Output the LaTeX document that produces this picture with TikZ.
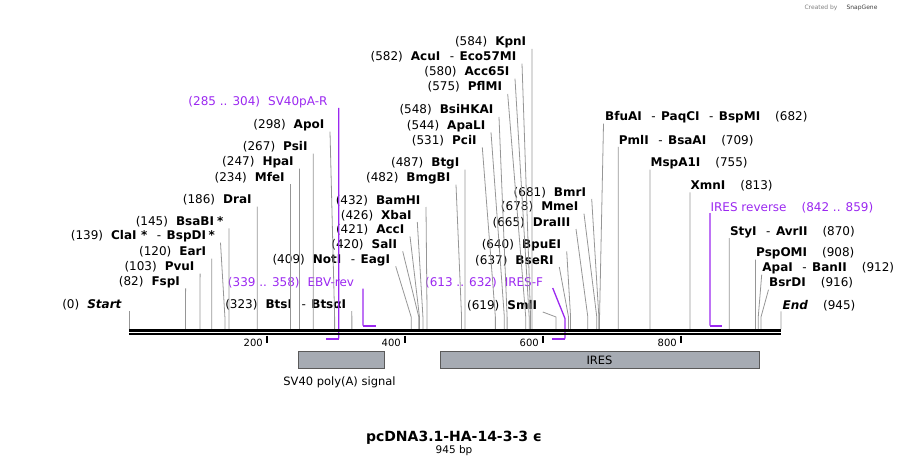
\documentclass[tikz,border=0pt]{standalone}
\usepackage{fontspec}
\setmainfont{DejaVu Sans}
\usetikzlibrary{positioning}
\definecolor{cutgray}{RGB}{150,150,150}
\definecolor{primerviolet}{RGB}{155,40,240}
\definecolor{featgray}{RGB}{166,171,179}
\definecolor{featedge}{RGB}{90,90,90}
\newcommand{\bpx}[1]{129+#1*0.68995}
\newcommand{\enz}[2]{(#1)\hspace{8pt}\textbf{#2}}
\newcommand{\renz}[2]{\textbf{#1}\hspace{15pt}(#2)}
\newcommand{\esep}{\hspace{9.5pt}{\mdseries -}\hspace{5.5pt}}

\begin{document}
\begin{tikzpicture}[x=1pt, y=-1pt,
labL/.style={anchor=base east, inner sep=0pt, font=\fontsize{12}{14}\selectfont},
labR/.style={anchor=base west, inner sep=0pt, font=\fontsize{12}{14}\selectfont},
cut/.style={draw=cutgray, line width=0.8pt},
primer/.style={draw=primerviolet, line width=1.3pt},
primbar/.style={draw=primerviolet, line width=2pt},
feature/.style={draw=featedge, fill=featgray, line width=0.6pt,
minimum height=16.8pt, inner sep=0pt, font=\fontsize{11.5}{13}\selectfont},
bb/.style={line width=2.3pt}
]
\useasboundingbox (0,0) rectangle (910,468);

% sites on the backbone
\foreach \b in {0,82,103,120,139,145,186,234,247,267,298,323,409,420,421,426,432,
482,487,531,544,548,575,580,582,584,619,637,640,665,678,681,682,709,755,813,870,
908,912,916,945}
\coordinate (s\b) at ({\bpx{\b}},329);
\foreach \b in {285,304,613,632}
\coordinate (p\b) at ({\bpx{\b}},338.7);
\foreach \b in {339,358,842,859}
\coordinate (p\b) at ({\bpx{\b}},325.7);

% left hand labels
\node[labL] (startLab) at (122,308.3) {(0)\hspace{8pt}\textbf{\textit{Start}}};
\node[labL] (fspI) at (180.1,285.3) {\enz{82}{FspI}};
\node[labL] (pvuI) at (194.6,270.7) {\enz{103}{PvuI}};
\node[labL] (earI) at (206.3,255.7) {\enz{120}{EarI}};
\node[labL] (claI) at (215,239.7) {\enz{139}{ClaI\hspace{4.5pt}*\esep BspDI\hspace{2.5pt}*}};
\node[labL] (bsaBI) at (223.5,225.3) {\enz{145}{BsaBI\hspace{3pt}*}};
\node[labL] (draI) at (251.8,203.7) {\enz{186}{DraI}};
\node[labL] (mfeI) at (284.9,181) {\enz{234}{MfeI}};
\node[labL] (hpaI) at (293.9,165.7) {\enz{247}{HpaI}};
\node[labL] (psiI) at (307.7,150.7) {\enz{267}{PsiI}};
\node[labL] (apoI) at (324.5,128.7) {\enz{298}{ApoI}};
\node[labL] (btsI) at (346.3,308) {\enz{323}{BtsI\esep BtsαI}};
\node[labL] (notI) at (390.2,263.3) {\enz{409}{NotI\esep EagI}};
\node[labL] (salI) at (397.2,248.3) {\enz{420}{SalI}};
\node[labL] (accI) at (404.5,233.3) {\enz{421}{AccI}};
\node[labL] (xbaI) at (411.8,219) {\enz{426}{XbaI}};
\node[labL] (bamHI) at (420.5,204) {\enz{432}{BamHI}};
\node[labL] (bmgBI) at (450.5,181.7) {\enz{482}{BmgBI}};
\node[labL] (btgI) at (459.5,166.7) {\enz{487}{BtgI}};
\node[labL] (pciI) at (476.8,144.3) {\enz{531}{PciI}};
\node[labL] (apaLI) at (485.5,129.3) {\enz{544}{ApaLI}};
\node[labL] (bsiHKAI) at (493.5,114) {\enz{548}{BsiHKAI}};
\node[labL] (pflMI) at (502.2,91) {\enz{575}{PflMI}};
\node[labL] (acc65I) at (509.5,75.7) {\enz{580}{Acc65I}};
\node[labL] (acuI) at (516.5,60.7) {\enz{582}{AcuI\esep Eco57MI}};
\node[labL] (kpnI) at (526.4,46) {\enz{584}{KpnI}};
\node[labL] (bmrI) at (586.2,196) {\enz{681}{BmrI}};
\node[labL] (mmeI) at (578.5,210.7) {\enz{678}{MmeI}};
\node[labL] (draIII) at (570.5,226) {\enz{665}{DraIII}};
\node[labL] (bpuEI) at (561.2,248.3) {\enz{640}{BpuEI}};
\node[labL] (bseRI) at (553.8,264) {\enz{637}{BseRI}};
\node[labL] (smlI) at (537.3,309) {\enz{619}{SmlI}};

% right hand labels
\node[labR] (bfuAI) at (605,120.7) {\renz{BfuAI\esep PaqCI\esep BspMI}{682}};
\node[labR] (pmlI) at (618.7,144) {\renz{PmlI\esep BsaAI}{709}};
\node[labR] (mspA1I) at (650.4,166.7) {\renz{MspA1I}{755}};
\node[labR] (xmnI) at (690.4,189.3) {\renz{XmnI}{813}};
\node[labR] (styI) at (729.8,235) {\renz{StyI\esep AvrII}{870}};
\node[labR] (pspOMI) at (756,256.7) {\renz{PspOMI}{908}};
\node[labR] (apaI) at (762.2,271.7) {\renz{ApaI\esep BanII}{912}};
\node[labR] (bsrDI) at (769,286.7) {\renz{BsrDI}{916}};
\node[labR] (endLab) at (782.5,309.3) {\textbf{\textit{End}}\hspace{15pt}(945)};

% primers
\node[labL, text=primerviolet] (sv40R) at (327.7,106) {(285 .. 304)\hspace{8pt}SV40pA-R};
\node[labL, text=primerviolet] (ebvRev) at (354.3,286) {(339 .. 358)\hspace{8pt}EBV-rev};
\node[labL, text=primerviolet] (iresF) at (543.3,286) {(613 .. 632)\hspace{8pt}IRES-F};
\node[labR, text=primerviolet] (iresRev) at (710.4,211) {IRES reverse\hspace{15pt}(842 .. 859)};

% cut lines
\draw[cut] (startLab.base east) ++(7,3) -- (s0);
\draw[cut] (fspI.base east) ++(5.5,3) -- ([yshift=12pt]s82) -- (s82);
\draw[cut] (pvuI.base east) ++(5.5,3) -- ([yshift=12pt]s103) -- (s103);
\draw[cut] (earI.base east) ++(5.5,3) -- ([yshift=12pt]s120) -- (s120);
\draw[cut] (claI.base east) ++(5.5,3) -- ([yshift=12pt]s139) -- (s139);
\draw[cut] (bsaBI.base east) ++(5.5,3) -- ([yshift=12pt]s145) -- (s145);
\draw[cut] (draI.base east) ++(5.5,3) -- ([yshift=12pt]s186) -- (s186);
\draw[cut] (mfeI.base east) ++(5.5,3) -- ([yshift=12pt]s234) -- (s234);
\draw[cut] (hpaI.base east) ++(5.5,3) -- ([yshift=12pt]s247) -- (s247);
\draw[cut] (psiI.base east) ++(5.5,3) -- ([yshift=12pt]s267) -- (s267);
\draw[cut] (apoI.base east) ++(5.5,3) -- ([yshift=12pt]s298) -- (s298);
\draw[cut] (btsI.base east) ++(5.5,3) -- ([yshift=12pt]s323) -- (s323);
\draw[cut] (notI.base east) ++(5.5,3) -- ([yshift=12pt]s409) -- (s409);
\draw[cut] (salI.base east) ++(5.5,3) -- ([yshift=12pt]s420) -- (s420);
\draw[cut] (accI.base east) ++(5.5,3) -- ([yshift=12pt]s421) -- (s421);
\draw[cut] (xbaI.base east) ++(5.5,3) -- ([yshift=12pt]s426) -- (s426);
\draw[cut] (bamHI.base east) ++(5.5,3) -- ([yshift=12pt]s432) -- (s432);
\draw[cut] (bmgBI.base east) ++(5.5,3) -- ([yshift=12pt]s482) -- (s482);
\draw[cut] (btgI.base east) ++(5.5,3) -- ([yshift=12pt]s487) -- (s487);
\draw[cut] (pciI.base east) ++(5.5,3) -- ([yshift=12pt]s531) -- (s531);
\draw[cut] (apaLI.base east) ++(5.5,3) -- ([yshift=12pt]s544) -- (s544);
\draw[cut] (bsiHKAI.base east) ++(5.5,3) -- ([yshift=12pt]s548) -- (s548);
\draw[cut] (pflMI.base east) ++(5.5,3) -- ([yshift=12pt]s575) -- (s575);
\draw[cut] (acc65I.base east) ++(5.5,3) -- ([yshift=12pt]s580) -- (s580);
\draw[cut] (acuI.base east) ++(5.5,3) -- ([yshift=12pt]s582) -- (s582);
\draw[cut] (kpnI.base east) ++(5.5,3) -- ([yshift=12pt]s584) -- (s584);
\draw[cut] (bmrI.base east) ++(5.5,3) -- ([yshift=12pt]s681) -- (s681);
\draw[cut] (mmeI.base east) ++(5.5,3) -- ([yshift=12pt]s678) -- (s678);
\draw[cut] (draIII.base east) ++(5.5,3) -- ([yshift=12pt]s665) -- (s665);
\draw[cut] (bpuEI.base east) ++(5.5,3) -- ([yshift=12pt]s640) -- (s640);
\draw[cut] (bseRI.base east) ++(5.5,3) -- ([yshift=12pt]s637) -- (s637);
\draw[cut] (smlI.base east) ++(5.5,3) -- ([yshift=12pt]s619) -- (s619);
\draw[cut] (bfuAI.base west) ++(-1.5,3) -- ([yshift=12pt]s682) -- (s682);
\draw[cut] (pmlI.base west) ++(-0.5,3) -- ([yshift=12pt]s709) -- (s709);
\draw[cut] (mspA1I.base west) ++(-0.5,3) -- ([yshift=12pt]s755) -- (s755);
\draw[cut] (xmnI.base west) ++(-0.5,3) -- ([yshift=12pt]s813) -- (s813);
\draw[cut] (styI.base west) ++(-0.5,3) -- ([yshift=12pt]s870) -- (s870);
\draw[cut] (pspOMI.base west) ++(-0.5,3) -- ([yshift=12pt]s908) -- (s908);
\draw[cut] (apaI.base west) ++(-0.5,3) -- ([yshift=12pt]s912) -- (s912);
\draw[cut] (bsrDI.base west) ++(-0.5,3) -- ([yshift=12pt]s916) -- (s916);
\draw[cut] (endLab.base west) ++(-1.5,2) -- (s945);

% primer marks
\draw[primer] (sv40R.base east) ++(11,2) -- (p304);
\draw[primbar] (p304) -- (p285);
\draw[primer] (ebvRev.base east) ++(8.6,2.5) -- (p339);
\draw[primbar] (p339) -- (p358);
\draw[primer] (iresF.base east) ++(9.4,2) -- ([yshift=20pt]p632) -- (p632);
\draw[primbar] (p632) -- (p613);
\draw[primer] (iresRev.base west) ++(-0.5,2) -- (p842);
\draw[primbar] (p842) -- (p859);

% backbone and ruler
\draw[bb] (s0 |- 0,330.5) -- (s945 |- 0,330.5);
\draw[bb] (s0 |- 0,334.3) -- (s945 |- 0,334.3);
\foreach \t in {200,400,600,800} {
\draw[line width=1.8pt] ({\bpx{\t}},335.5) -- ({\bpx{\t}},343);
\node[anchor=base east, inner sep=0pt, font=\fontsize{10}{12}\selectfont]
(tick\t) at ({\bpx{\t}-4},346.5) {\t};
}

% features
\node[feature, minimum width=86pt] (sv40pa) at (341,360.1) {};
\node[font=\fontsize{11.5}{13}\selectfont, anchor=base] (sv40paLab) at (339.5,385.5)
{SV40 poly(A) signal};
\node[feature, minimum width=319pt] (ires) at (599.5,360.1) {IRES};

% title
\node[anchor=base, font=\fontsize{14}{16}\selectfont\bfseries] (title) at (454,441.7)
{pcDNA3.1-HA-14-3-3 ϵ};
\node[anchor=base, font=\fontsize{10.5}{12}\selectfont] (bpsize) at (454,453.3) {945 bp};
\node[anchor=base east, font=\fontsize{6}{7}\selectfont, text=gray] (credit) at (881,10)
{Created by\hspace{9pt}\textcolor{darkgray}{SnapGene}};
\end{tikzpicture}
\end{document}
